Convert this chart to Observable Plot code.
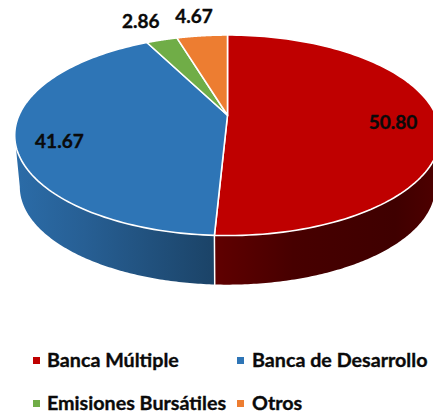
<!DOCTYPE html>
<html><head><meta charset="utf-8">
<script src="https://cdn.jsdelivr.net/npm/d3@7"></script>
<script src="https://cdn.jsdelivr.net/npm/@observablehq/plot@0.6"></script>
<style>
html,body{margin:0;padding:0;background:#fff;overflow:hidden}
#chart{width:433px;height:340px}
#chart svg{display:block}
#legend{position:relative;width:433px;height:75px;font:700 19.7px Lato,sans-serif;color:#0a0a0a;-webkit-text-stroke:0.35px #0a0a0a}
#legend .i{position:absolute;white-space:nowrap;line-height:22px}
#legend .s{position:absolute;width:7px;height:7px}
</style></head><body>
<div id="chart"></div><div id="legend"></div>
<script>
const categories = ["Banca Múltiple", "Banca de Desarrollo", "Emisiones Bursátiles", "Otros"];
const values = [50.80, 41.67, 2.86, 4.67];
const valueLabels = ["50.80", "41.67", "2.86", "4.67"];
const colors = ["#bf0000", "#2e75b6", "#70ad47", "#ed7d31"];

// tilted-disc projection: angle clockwise from the top, in unit coordinates
const k = 0.2;
const rimPt = a => { const r = a * Math.PI / 180, d = 1 + k * Math.cos(r);
  return [Math.sin(r) / d, Math.cos(r) / d]; };
const basePt = a => { const [x, y] = rimPt(a); return [x * 0.976, y * 0.976 - 0.54]; };
const sweep = (a, b) => d3.range(0, 121).map(i => a + (b - a) * i / 120);

let acc = 0;
const slices = values.map((v, i) => {
  const a0 = acc * 3.6; acc += v; const a1 = acc * 3.6;
  return {name: categories[i], value: v, label: valueLabels[i], a0, a1, mid: (a0 + a1) / 2};
});
const topPts = slices.flatMap(s => [
  {name: s.name, p: [0, 0]},
  ...sweep(s.a0, s.a1).map(a => ({name: s.name, p: rimPt(a)}))
]);
const tangent = Math.acos(-k) * 180 / Math.PI;
const wall = (a, b) => [...sweep(a, b).map(rimPt), ...sweep(b, a).map(basePt)];
const redWall = wall(tangent, slices[0].a1);
const blueWall = wall(slices[0].a1, 360 - tangent);
const textPts = slices.map(s => {
  const out = s.value < 10, [x, y] = rimPt(s.mid);
  return {x: x * (out ? 1.32 : 0.79), y: y * (out ? 1.3 : 1.03), label: s.label};
});

function gradients() {
  const defs = d3.create("svg:defs");
  const add = (id, stops) => {
    const g = defs.append("linearGradient").attr("id", id);
    stops.forEach(([o, c]) => g.append("stop").attr("offset", o).attr("stop-color", c));
  };
  add("wallBlue", [[0, "#2b6ca8"], [0.35, "#275f94"], [1, "#1b4367"]]);
  add("wallRed", [[0, "#600000"], [0.35, "#470000"], [0.8, "#3f0000"], [1, "#4f0000"]]);
  return defs.node();
}

const plot = Plot.plot({
  width: 433, height: 340, margin: 0,
  style: {background: "#fff", overflow: "hidden"},
  x: {axis: null, domain: [-1, 1], range: [18.5, 435.5]},
  y: {axis: null, domain: [-1, 1], range: [211, 18.5]},
  color: {domain: categories, range: colors},
  marks: [
    gradients,
    Plot.line(redWall, {x: d => d[0], y: d => d[1], fill: "url(#wallRed)", stroke: "none", curve: "linear-closed"}),
    Plot.line(blueWall, {x: d => d[0], y: d => d[1], fill: "url(#wallBlue)", stroke: "none", curve: "linear-closed"}),
    Plot.line([rimPt(slices[0].a1), basePt(slices[0].a1)], {x: d => d[0], y: d => d[1], stroke: "#fff", strokeWidth: 1.5}),
    Plot.line(topPts, {x: d => d.p[0], y: d => d.p[1], z: "name", fill: "name", stroke: "#fff", strokeWidth: 1.6, strokeLinejoin: "round", curve: "linear-closed"}),
    Plot.text(textPts, {x: "x", y: "y", text: "label", dy: 5, fontFamily: "Lato, sans-serif", fontWeight: 700, fontSize: 19, fill: "#0a0a0a", stroke: "#0a0a0a", strokeWidth: 0.35})
  ]
});
document.getElementById("chart").append(plot);

const legendSlots = [[33, 47, 6], [237, 252, 6], [33, 47, 49], [237, 252, 49]];
const legend = document.getElementById("legend");
categories.forEach((c, i) => {
  const [sx, tx, ty] = legendSlots[i];
  const s = document.createElement("div"); s.className = "s";
  s.style.cssText = `left:${sx}px;top:${ty + 11}px;background:${colors[i]}`;
  const t = document.createElement("div"); t.className = "i";
  t.style.cssText = `left:${tx}px;top:${ty + 3}px`; t.textContent = c;
  legend.append(s, t);
});
</script></body></html>
